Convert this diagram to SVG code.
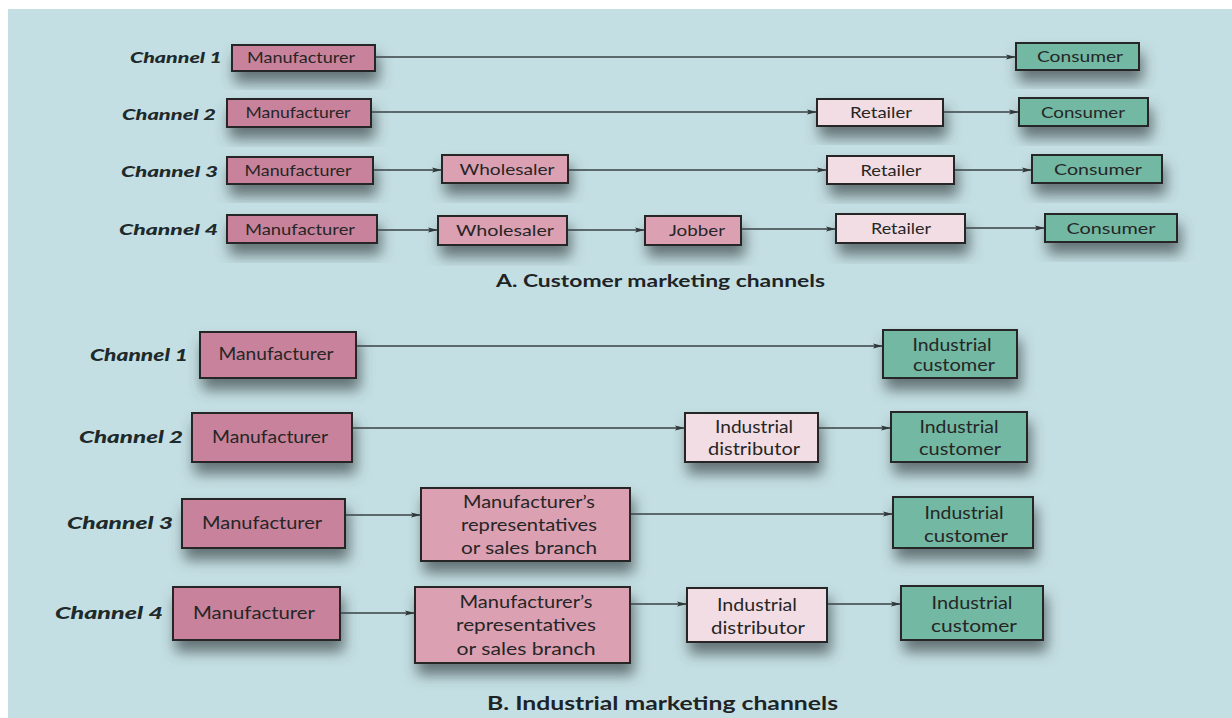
<svg xmlns="http://www.w3.org/2000/svg" width="1232" height="718" viewBox="0 0 1232 718">
<defs>
<filter id="sh" x="-20%" y="-30%" width="140%" height="200%">
<feDropShadow dx="3" dy="11" stdDeviation="7" flood-color="#3d4649" flood-opacity="0.7"/>
</filter>
<marker id="ah" viewBox="0 0 10 6" refX="10" refY="3" markerWidth="10" markerHeight="6" markerUnits="userSpaceOnUse" orient="auto">
<path d="M0,0.6 L10,3 L0,5.4 L2,3 Z" fill="#2e3436"/>
</marker>
<style>
.bx{stroke:#252525;stroke-width:2}
.mf{fill:#c9829b}
.md{fill:#dca0b3}
.lt{fill:#f3dde4}
.gr{fill:#72b8a3}
.t{font-family:Lato,"Liberation Sans",sans-serif;fill:#262626;text-anchor:middle}
.s{font-size:15px}
.b{font-size:17.5px}
.ch{font-family:Lato,"Liberation Sans",sans-serif;font-weight:900;font-style:italic;fill:#1e2a2c;text-anchor:start}
.cap{font-family:Lato,"Liberation Sans",sans-serif;font-weight:bold;fill:#1e2426;text-anchor:start}
.ln{stroke:#3a4244;stroke-width:1.3;fill:none;marker-end:url(#ah)}
</style>
</defs>
<rect x="0" y="0" width="1232" height="718" fill="#ffffff"/>
<rect x="8" y="9" width="1224" height="709" fill="#c4dfe3"/>

<g id="connectors">
<line class="ln" x1="375" y1="57" x2="1016" y2="57"/>
<line class="ln" x1="371" y1="112" x2="817" y2="112"/>
<line class="ln" x1="943" y1="112" x2="1019" y2="112"/>
<line class="ln" x1="373" y1="170" x2="442" y2="170"/>
<line class="ln" x1="568" y1="170" x2="827" y2="170"/>
<line class="ln" x1="954" y1="170" x2="1032" y2="170"/>
<line class="ln" x1="377" y1="230" x2="438" y2="230"/>
<line class="ln" x1="567" y1="230" x2="645" y2="230"/>
<line class="ln" x1="741" y1="229" x2="836" y2="229"/>
<line class="ln" x1="965" y1="228" x2="1045" y2="228"/>
<line class="ln" x1="356" y1="346" x2="883" y2="346"/>
<line class="ln" x1="352" y1="428" x2="685" y2="428"/>
<line class="ln" x1="818" y1="428" x2="891" y2="428"/>
<line class="ln" x1="345" y1="515" x2="421" y2="515"/>
<line class="ln" x1="630" y1="514" x2="893" y2="514"/>
<line class="ln" x1="340" y1="613" x2="415" y2="613"/>
<line class="ln" x1="630" y1="604" x2="687" y2="604"/>
<line class="ln" x1="827" y1="604" x2="901" y2="604"/>
</g>

<g id="labels-a">
<text class="ch" x="130" y="63" font-size="15.5" textLength="92" lengthAdjust="spacingAndGlyphs">Channel 1</text>
<text class="ch" x="122" y="120" font-size="15.5" textLength="94" lengthAdjust="spacingAndGlyphs">Channel 2</text>
<text class="ch" x="121" y="177" font-size="15.5" textLength="97" lengthAdjust="spacingAndGlyphs">Channel 3</text>
<text class="ch" x="119" y="235" font-size="15.5" textLength="99" lengthAdjust="spacingAndGlyphs">Channel 4</text>
<text class="cap" x="496" y="287" font-size="16.5" textLength="329" lengthAdjust="spacingAndGlyphs">A. Customer marketing channels</text>
</g>

<g id="a1-manufacturer"><rect class="bx mf" filter="url(#sh)" x="232" y="45" width="143" height="26"/><text class="t s" x="301" y="63" textLength="108" lengthAdjust="spacingAndGlyphs">Manufacturer</text></g>
<g id="a1-consumer"><rect class="bx gr" filter="url(#sh)" x="1016" y="43" width="123" height="27"/><text class="t s" x="1080" y="62" textLength="86" lengthAdjust="spacingAndGlyphs">Consumer</text></g>

<g id="a2-manufacturer"><rect class="bx mf" filter="url(#sh)" x="227" y="99" width="144" height="28"/><text class="t s" x="298" y="118" textLength="105" lengthAdjust="spacingAndGlyphs">Manufacturer</text></g>
<g id="a2-retailer"><rect class="bx lt" filter="url(#sh)" x="817" y="99" width="126" height="27"/><text class="t s" x="881" y="118" textLength="62" lengthAdjust="spacingAndGlyphs">Retailer</text></g>
<g id="a2-consumer"><rect class="bx gr" filter="url(#sh)" x="1019" y="98" width="129" height="28"/><text class="t s" x="1083" y="118" textLength="84" lengthAdjust="spacingAndGlyphs">Consumer</text></g>

<g id="a3-manufacturer"><rect class="bx mf" filter="url(#sh)" x="227" y="157" width="146" height="27"/><text class="t s" x="298" y="176" textLength="107" lengthAdjust="spacingAndGlyphs">Manufacturer</text></g>
<g id="a3-wholesaler"><rect class="bx md" filter="url(#sh)" x="442" y="155" width="126" height="28"/><text class="t s" x="507" y="175" textLength="95" lengthAdjust="spacingAndGlyphs">Wholesaler</text></g>
<g id="a3-retailer"><rect class="bx lt" filter="url(#sh)" x="827" y="156" width="127" height="28"/><text class="t s" x="891" y="176" textLength="61" lengthAdjust="spacingAndGlyphs">Retailer</text></g>
<g id="a3-consumer"><rect class="bx gr" filter="url(#sh)" x="1032" y="155" width="130" height="28"/><text class="t s" x="1098" y="175" textLength="88" lengthAdjust="spacingAndGlyphs">Consumer</text></g>

<g id="a4-manufacturer"><rect class="bx mf" filter="url(#sh)" x="227" y="215" width="150" height="28"/><text class="t s" x="300" y="235" textLength="110" lengthAdjust="spacingAndGlyphs">Manufacturer</text></g>
<g id="a4-wholesaler"><rect class="bx md" filter="url(#sh)" x="438" y="216" width="129" height="29"/><text class="t s" x="505" y="236" textLength="98" lengthAdjust="spacingAndGlyphs">Wholesaler</text></g>
<g id="a4-jobber"><rect class="bx md" filter="url(#sh)" x="645" y="216" width="96" height="29"/><text class="t s" x="697" y="236" textLength="56" lengthAdjust="spacingAndGlyphs">Jobber</text></g>
<g id="a4-retailer"><rect class="bx lt" filter="url(#sh)" x="836" y="214" width="129" height="29"/><text class="t s" x="901" y="234" textLength="60" lengthAdjust="spacingAndGlyphs">Retailer</text></g>
<g id="a4-consumer"><rect class="bx gr" filter="url(#sh)" x="1045" y="214" width="132" height="28"/><text class="t s" x="1111" y="234" textLength="89" lengthAdjust="spacingAndGlyphs">Consumer</text></g>

<g id="labels-b">
<text class="ch" x="90" y="361" font-size="17.5" textLength="98" lengthAdjust="spacingAndGlyphs">Channel 1</text>
<text class="ch" x="79" y="443" font-size="17.5" textLength="104" lengthAdjust="spacingAndGlyphs">Channel 2</text>
<text class="ch" x="67" y="529" font-size="17.5" textLength="106" lengthAdjust="spacingAndGlyphs">Channel 3</text>
<text class="ch" x="55" y="619" font-size="17.5" textLength="108" lengthAdjust="spacingAndGlyphs">Channel 4</text>
<text class="cap" x="487" y="710" font-size="18" textLength="351" lengthAdjust="spacingAndGlyphs">B. Industrial marketing channels</text>
</g>

<g id="b1-manufacturer"><rect class="bx mf" filter="url(#sh)" x="200" y="332" width="156" height="46"/><text class="t b" x="276" y="360" textLength="115" lengthAdjust="spacingAndGlyphs">Manufacturer</text></g>
<g id="b1-customer"><rect class="bx gr" filter="url(#sh)" x="883" y="330" width="134" height="48"/><text class="t b" x="952" y="351" textLength="79" lengthAdjust="spacingAndGlyphs">Industrial</text><text class="t b" x="954" y="371" textLength="82" lengthAdjust="spacingAndGlyphs">customer</text></g>

<g id="b2-manufacturer"><rect class="bx mf" filter="url(#sh)" x="192" y="413" width="160" height="49"/><text class="t b" x="270" y="443" textLength="116" lengthAdjust="spacingAndGlyphs">Manufacturer</text></g>
<g id="b2-distributor"><rect class="bx lt" filter="url(#sh)" x="685" y="413" width="133" height="49"/><text class="t b" x="754" y="433" textLength="78" lengthAdjust="spacingAndGlyphs">Industrial</text><text class="t b" x="754" y="455" textLength="92" lengthAdjust="spacingAndGlyphs">distributor</text></g>
<g id="b2-customer"><rect class="bx gr" filter="url(#sh)" x="891" y="412" width="136" height="50"/><text class="t b" x="959" y="433" textLength="79" lengthAdjust="spacingAndGlyphs">Industrial</text><text class="t b" x="960" y="455" textLength="82" lengthAdjust="spacingAndGlyphs">customer</text></g>

<g id="b3-manufacturer"><rect class="bx mf" filter="url(#sh)" x="182" y="499" width="163" height="49"/><text class="t b" x="262" y="529" textLength="120" lengthAdjust="spacingAndGlyphs">Manufacturer</text></g>
<g id="b3-representatives"><rect class="bx md" filter="url(#sh)" x="421" y="488" width="209" height="73"/><text class="t b" x="529" y="508" textLength="132" lengthAdjust="spacingAndGlyphs">Manufacturer’s</text><text class="t b" x="529" y="531" textLength="136" lengthAdjust="spacingAndGlyphs">representatives</text><text class="t b" x="529" y="554" textLength="136" lengthAdjust="spacingAndGlyphs">or sales branch</text></g>
<g id="b3-customer"><rect class="bx gr" filter="url(#sh)" x="893" y="497" width="140" height="51"/><text class="t b" x="964" y="519" textLength="79" lengthAdjust="spacingAndGlyphs">Industrial</text><text class="t b" x="966" y="542" textLength="84" lengthAdjust="spacingAndGlyphs">customer</text></g>

<g id="b4-manufacturer"><rect class="bx mf" filter="url(#sh)" x="173" y="587" width="167" height="53"/><text class="t b" x="254" y="619" textLength="122" lengthAdjust="spacingAndGlyphs">Manufacturer</text></g>
<g id="b4-representatives"><rect class="bx md" filter="url(#sh)" x="415" y="587" width="215" height="76"/><text class="t b" x="526" y="608" textLength="133" lengthAdjust="spacingAndGlyphs">Manufacturer’s</text><text class="t b" x="526" y="631" textLength="140" lengthAdjust="spacingAndGlyphs">representatives</text><text class="t b" x="526" y="655" textLength="139" lengthAdjust="spacingAndGlyphs">or sales branch</text></g>
<g id="b4-distributor"><rect class="bx lt" filter="url(#sh)" x="687" y="588" width="140" height="54"/><text class="t b" x="757" y="611" textLength="80" lengthAdjust="spacingAndGlyphs">Industrial</text><text class="t b" x="758" y="634" textLength="94" lengthAdjust="spacingAndGlyphs">distributor</text></g>
<g id="b4-customer"><rect class="bx gr" filter="url(#sh)" x="901" y="586" width="142" height="54"/><text class="t b" x="972" y="609" textLength="81" lengthAdjust="spacingAndGlyphs">Industrial</text><text class="t b" x="974" y="632" textLength="86" lengthAdjust="spacingAndGlyphs">customer</text></g>
</svg>
